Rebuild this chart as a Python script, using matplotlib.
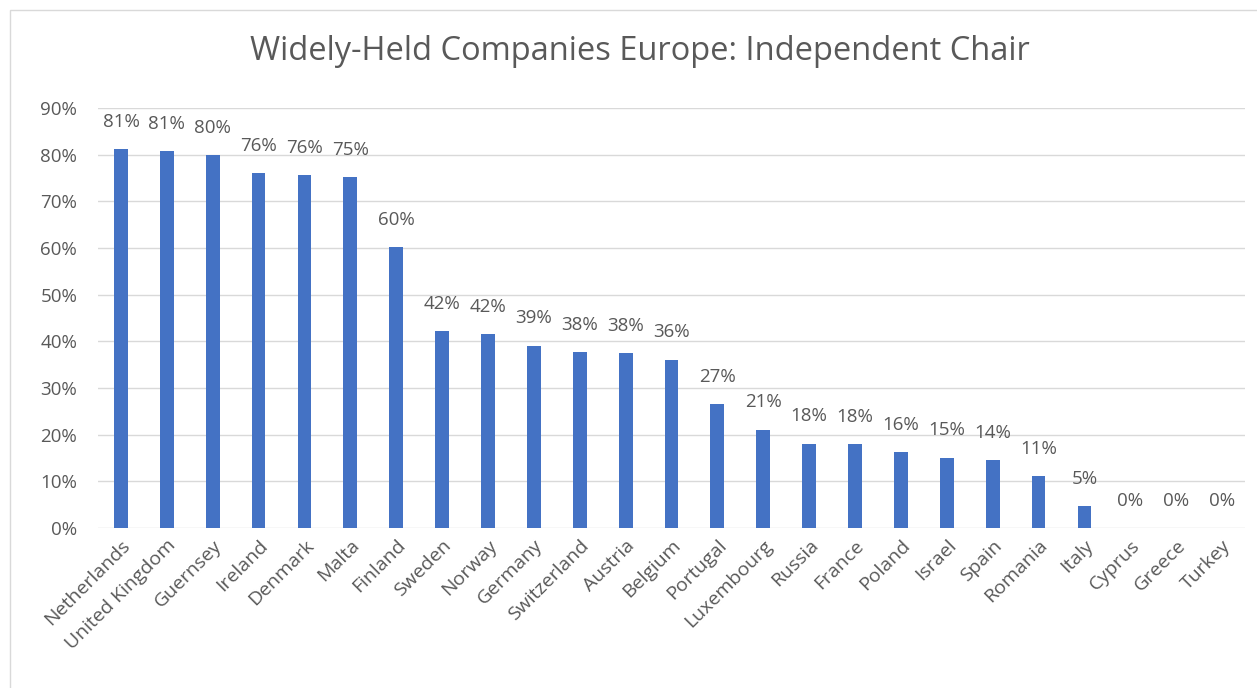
import matplotlib
matplotlib.use("Agg")
import matplotlib.pyplot as plt
from matplotlib.patches import Rectangle
from matplotlib.ticker import FuncFormatter, MultipleLocator

countries = ["Netherlands", "United Kingdom", "Guernsey", "Ireland", "Denmark", "Malta",
             "Finland", "Sweden", "Norway", "Germany", "Switzerland", "Austria", "Belgium",
             "Portugal", "Luxembourg", "Russia", "France", "Poland", "Israel", "Spain",
             "Romania", "Italy", "Cyprus", "Greece", "Turkey"]
values = [0.812, 0.808, 0.799, 0.761, 0.756, 0.752, 0.602, 0.422, 0.416, 0.391, 0.378,
          0.375, 0.361, 0.266, 0.211, 0.181, 0.180, 0.163, 0.151, 0.146, 0.111, 0.047,
          0.0, 0.0, 0.0]
labels = ["81%", "81%", "80%", "76%", "76%", "75%", "60%", "42%", "42%", "39%", "38%",
          "38%", "36%", "27%", "21%", "18%", "18%", "16%", "15%", "14%", "11%", "5%",
          "0%", "0%", "0%"]

plt.rcParams['font.family'] = ['Open Sans', 'DejaVu Sans']
txt = '#595959'

fig = plt.figure(figsize=(12.57, 6.88), dpi=100)
ax = fig.add_axes([98/1257, 1-528/688, (1245-98)/1257, (528-108)/688])

x = range(len(countries))
ax.bar(x, values, width=0.3, color='#4472C4', zorder=3)
for xi, v, lab in zip(x, values, labels):
    ax.annotate(lab, (xi, v), xytext=(0, 19.5), textcoords='offset points',
                ha='center', va='center', fontsize=13.5, color=txt)

ax.set_xlim(-0.5, len(countries) - 0.5)
ax.set_ylim(0, 0.9)
ax.yaxis.set_major_locator(MultipleLocator(0.1))
ax.yaxis.set_major_formatter(FuncFormatter(lambda v, p: f"{round(v*100)}%"))
ax.grid(axis='y', color='#D9D9D9', linewidth=1, zorder=0)
for s in ax.spines.values():
    s.set_visible(False)
ax.tick_params(axis='both', length=0, colors=txt, labelsize=13.5)
ax.tick_params(axis='y', pad=15)
ax.set_xticks(list(x))
ax.set_xticklabels(countries, rotation=45, ha='right', va='top', rotation_mode='anchor',
                   fontsize=14)
ax.tick_params(axis='x', pad=6)

fig.text(640/1257, 1-52/688, "Widely-Held Companies Europe: Independent Chair",
         ha='center', va='center', fontsize=23.5, color=txt)

fig.patches.append(Rectangle((10/1257, -0.01), 1.0, 1.0 - 10/688 + 0.01,
                             transform=fig.transFigure, fill=False,
                             edgecolor='#D9D9D9', linewidth=1))

fig.savefig("out.png", dpi=100)
